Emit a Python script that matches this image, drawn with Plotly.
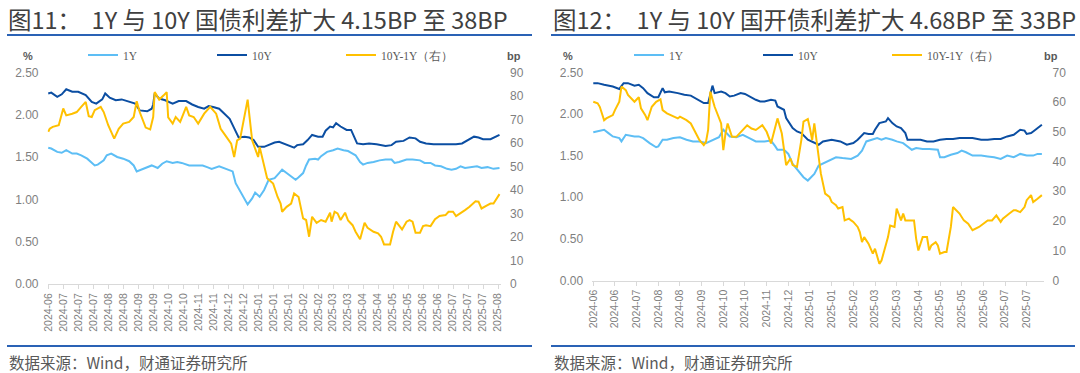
import plotly.graph_objects as go
from plotly.subplots import make_subplots

# ---------------- Left panel (国债) ----------------
L_TICKS = ["2024-06","2024-07","2024-07","2024-07","2024-08","2024-08","2024-09","2024-09",
           "2024-10","2024-10","2024-11","2024-11","2024-12","2024-12","2025-01","2025-01",
           "2025-01","2025-02","2025-02","2025-03","2025-03","2025-04","2025-04","2025-05",
           "2025-05","2025-06","2025-06","2025-07","2025-07","2025-07","2025-08"]

L_1Y_X = [0,2,6,9,12,16,19,22,26,29,31,33,37,39,42,46,50,54,57,59,62,66,69,73,76,79,83,86,89,94,
          98,103,106,109,114,117,121,123,125,128,133,136,138,141,144,147,151,154,156,159,162,165,
          167,170,172,174,178,180,182,184,186,190,193,197,200,203,205,208,210,213,217,221,225,229,
          231,234,239,243,248,251,255,258,262,266,269,272,275,278,282,286,289,293,297,301]
L_1Y = [1.61,1.60,1.56,1.55,1.58,1.54,1.54,1.52,1.48,1.43,1.40,1.41,1.46,1.52,1.54,1.50,1.48,1.45,
        1.40,1.33,1.35,1.38,1.40,1.37,1.42,1.45,1.43,1.44,1.43,1.40,1.40,1.40,1.38,1.36,1.39,1.37,
        1.35,1.33,1.19,1.09,0.94,1.01,1.08,1.03,1.11,1.23,1.25,1.31,1.35,1.31,1.27,1.23,1.26,1.31,
        1.40,1.47,1.48,1.47,1.51,1.54,1.56,1.58,1.60,1.58,1.57,1.54,1.52,1.44,1.41,1.43,1.44,1.46,
        1.47,1.47,1.43,1.44,1.47,1.47,1.46,1.43,1.43,1.40,1.39,1.36,1.35,1.36,1.39,1.37,1.38,1.39,
        1.37,1.38,1.36,1.37]

L_10Y_X = [0,2,6,9,12,16,20,25,29,32,36,38,41,45,49,54,58,61,66,69,70,71,74,78,83,87,92,96,100,
           104,107,110,114,117,121,124,127,131,134,137,140,144,147,151,154,157,161,164,166,170,
           173,176,180,183,185,188,190,192,195,199,202,204,206,210,214,219,222,225,229,232,237,
           241,245,248,252,257,262,268,272,276,279,284,287,290,295,298,301]
L_10Y = [2.25,2.26,2.21,2.24,2.30,2.27,2.27,2.23,2.15,2.13,2.18,2.25,2.20,2.17,2.18,2.15,2.13,2.05,
         2.04,2.07,2.12,2.25,2.19,2.17,2.13,2.16,2.16,2.12,2.09,2.07,2.10,2.09,2.07,2.02,1.95,1.84,
         1.73,1.74,1.73,1.70,1.62,1.62,1.64,1.67,1.68,1.66,1.63,1.61,1.64,1.65,1.70,1.76,1.74,1.74,
         1.81,1.86,1.85,1.90,1.86,1.82,1.82,1.73,1.66,1.65,1.66,1.65,1.64,1.63,1.64,1.68,1.69,1.73,
         1.72,1.68,1.66,1.65,1.65,1.65,1.65,1.66,1.69,1.74,1.73,1.71,1.71,1.74,1.76]

L_SP_X = [0,1,3,7,10,12,16,19,22,25,27,29,31,35,37,40,44,47,50,54,57,59,61,65,68,70,71,74,77,79,
          80,83,85,88,92,94,97,100,104,108,112,115,118,122,124,126,128,130,133,136,140,141,144,
          146,150,153,155,156,159,162,164,167,170,172,174,176,179,182,185,188,189,191,193,195,198,
          200,203,205,208,211,213,217,220,222,224,228,230,232,236,239,241,243,245,248,250,252,255,
          258,261,265,267,270,272,275,278,281,285,287,289,293,295,297,299,301]
L_SP = [64.7,66.0,66.8,67.5,74.6,71.7,72.4,73.1,75.3,77.4,71.3,71.0,73.9,75.3,73.1,67.5,61.8,66.0,
        68.2,68.9,71.0,77.7,73.1,66.5,65.7,71.0,81.6,78.4,80.2,81.6,70.8,68.2,71.0,68.9,75.3,71.7,
        71.0,68.2,72.4,75.3,72.4,66.0,63.3,59.7,54.0,61.1,61.8,68.9,78.4,61.1,54.0,58.3,49.8,45.0,
        42.7,37.0,34.2,30.7,32.8,34.2,38.5,37.0,27.9,27.2,20.1,28.6,26.0,27.2,26.5,30.3,26.5,30.7,
        30.0,27.2,30.3,27.0,25.0,22.2,19.0,26.0,23.9,22.2,21.5,20.1,16.8,16.8,22.2,26.5,23.2,26.5,
        27.2,26.5,21.8,21.8,24.6,25.0,24.6,27.5,28.9,29.3,30.7,30.7,28.9,30.0,31.4,32.8,35.2,35.0,
        32.1,33.5,34.2,34.2,36.4,38.2]

# ---------------- Right panel (国开债) ----------------
R_TICKS = ["2024-06","2024-06","2024-07","2024-08","2024-08","2024-09","2024-10","2024-10",
           "2024-11","2024-12","2025-01","2025-01","2025-02","2025-03","2025-03","2025-04",
           "2025-05","2025-05","2025-06","2025-07","2025-07"]

R_1Y_X = [0,2,5,7,9,12,13,15,19,21,23,26,29,30,32,34,37,40,43,46,49,52,55,58,60,62,63,66,69,72,
          75,79,82,84,85,88,90,92,95,97,99,102,104,107,110,112,115,119,122,124,126,129,131,133,135,
          138,140,143,145,147,149,152,155,159,160,162,165,168,170,172,175,179,182,185,188,191,194,
          197,200,203,205,207]
R_1Y = [1.78,1.79,1.81,1.77,1.73,1.71,1.67,1.75,1.73,1.73,1.71,1.65,1.60,1.61,1.69,1.69,1.71,1.72,
        1.69,1.67,1.67,1.65,1.69,1.72,1.81,1.75,1.73,1.72,1.75,1.71,1.67,1.67,1.68,1.61,1.57,1.57,
        1.52,1.40,1.30,1.24,1.20,1.28,1.38,1.42,1.46,1.48,1.47,1.46,1.50,1.56,1.67,1.69,1.71,1.69,
        1.71,1.69,1.67,1.65,1.61,1.57,1.59,1.58,1.58,1.57,1.48,1.48,1.51,1.53,1.56,1.54,1.50,1.50,
        1.49,1.48,1.46,1.50,1.48,1.52,1.50,1.50,1.52,1.52]

R_10Y_X = [0,2,5,7,9,12,14,16,19,21,23,25,28,30,32,33,35,39,42,45,48,51,53,54,55,56,59,61,63,65,
           68,70,72,75,77,79,82,84,85,88,89,92,94,96,99,102,104,106,110,114,117,120,122,125,127,
           129,130,132,135,136,138,140,142,144,145,148,151,154,157,160,163,166,169,172,175,179,182,
           185,188,191,194,197,199,200,202,203,205,207]
R_10Y = [2.37,2.37,2.35,2.34,2.33,2.30,2.37,2.37,2.34,2.35,2.31,2.25,2.20,2.20,2.31,2.26,2.27,2.25,
         2.23,2.22,2.17,2.13,2.13,2.25,2.34,2.25,2.27,2.25,2.21,2.22,2.25,2.24,2.21,2.17,2.15,2.15,
         2.17,2.16,2.09,2.05,1.95,1.83,1.79,1.77,1.69,1.65,1.63,1.67,1.69,1.67,1.63,1.65,1.69,1.77,
         1.76,1.76,1.81,1.89,1.91,1.95,1.89,1.85,1.83,1.77,1.69,1.69,1.69,1.67,1.67,1.69,1.70,1.70,
         1.71,1.71,1.71,1.69,1.69,1.70,1.70,1.73,1.75,1.81,1.80,1.76,1.77,1.79,1.83,1.87]

R_SP_X = [0,2,3,5,6,9,10,12,13,15,16,19,21,22,24,25,27,29,31,32,34,36,39,40,43,45,48,49,51,52,53,
          54,56,59,60,61,62,64,66,69,71,73,75,78,80,82,84,85,87,89,91,92,94,96,97,99,100,101,102,
          104,105,107,109,110,112,113,115,116,118,119,120,122,123,124,125,127,129,130,131,132,133,
          135,136,137,139,140,142,143,144,146,148,149,150,152,154,155,156,158,159,160,162,163,165,
          166,169,171,173,175,178,180,182,184,186,188,189,192,194,195,197,199,200,202,203,205,206,207]
R_SP = [60.1,59.6,58.4,53.9,54.5,55.6,57.3,60.1,65.2,64.0,62.4,60.1,61.6,57.9,55.6,53.9,58.4,60.1,
        60.9,57.3,56.2,55.6,54.5,55.1,53.9,52.8,48.3,47.2,45.5,46.6,50.6,63.5,58.4,52.8,43.8,49.4,
        52.8,48.3,48.3,50.6,52.2,51.1,50.6,52.2,50.0,46.1,51.5,54.5,49.4,38.8,41.0,38.8,38.2,47.2,
        53.4,54.3,51.1,47.2,52.8,41.6,36.0,29.2,28.1,26.4,25.3,24.2,24.7,20.2,20.8,20.2,19.7,18.0,
        16.3,12.9,14.6,12.4,9.0,10.7,8.4,5.6,6.7,12.4,14.6,18.5,18.0,24.2,20.2,22.5,20.2,20.2,20.2,
        14.0,10.1,14.6,14.6,10.1,11.8,12.9,11.8,9.0,9.6,9.6,18.0,24.7,22.5,20.2,19.1,16.9,18.0,19.1,
        20.2,20.2,21.9,19.7,20.8,22.5,23.6,23.6,23.0,24.7,27.0,28.7,26.4,27.5,28.1,28.7,30.3,30.9,32.8]

TITLE_L = "图11：  1Y 与 10Y 国债利差扩大 4.15BP 至 38BP"
TITLE_R = "图12：  1Y 与 10Y 国开债利差扩大 4.68BP 至 33BP"
SOURCE = "数据来源：Wind，财通证券研究所"
NAMES = ["1Y", "10Y", "10Y-1Y（右）"]

C_1Y = "#5DBEF5"
C_10Y = "#0B4EA2"
C_SP = "#FFC000"

W, H = 1080, 373
def px(x): return x / W
def py(y): return (H - y) / H

fig = make_subplots(rows=1, cols=2, specs=[[{"secondary_y": True}, {"secondary_y": True}]])

fig.add_trace(go.Scatter(x=L_1Y_X, y=L_1Y, name=NAMES[0], mode="lines",
                         line=dict(color=C_1Y, width=2), legend="legend"), row=1, col=1, secondary_y=False)
fig.add_trace(go.Scatter(x=L_10Y_X, y=L_10Y, name=NAMES[1], mode="lines",
                         line=dict(color=C_10Y, width=2), legend="legend"), row=1, col=1, secondary_y=False)
fig.add_trace(go.Scatter(x=L_SP_X, y=L_SP, name=NAMES[2], mode="lines",
                         line=dict(color=C_SP, width=2), legend="legend"), row=1, col=1, secondary_y=True)

fig.add_trace(go.Scatter(x=R_1Y_X, y=R_1Y, name=NAMES[0], mode="lines",
                         line=dict(color=C_1Y, width=2), legend="legend2"), row=1, col=2, secondary_y=False)
fig.add_trace(go.Scatter(x=R_10Y_X, y=R_10Y, name=NAMES[1], mode="lines",
                         line=dict(color=C_10Y, width=2), legend="legend2"), row=1, col=2, secondary_y=False)
fig.add_trace(go.Scatter(x=R_SP_X, y=R_SP, name=NAMES[2], mode="lines",
                         line=dict(color=C_SP, width=2), legend="legend2"), row=1, col=2, secondary_y=True)

tickfont = dict(family="Liberation Sans, Arial, sans-serif", size=12, color="#7F7F7F")
xtickfont = dict(family="Liberation Sans, Arial, sans-serif", size=10.5, color="#7F7F7F")

xcommon = dict(showgrid=False, zeroline=False, showline=True, linecolor="#D9D9D9", linewidth=1,
               ticks="outside", ticklen=4, tickcolor="#D9D9D9", tickangle=-90, tickfont=xtickfont,
               automargin=False)
ycommon = dict(showgrid=False, zeroline=False, showline=False, ticks="", tickfont=tickfont,
               ticklabelstandoff=8, automargin=False)

fig.update_layout(
    xaxis=dict(**xcommon, domain=[px(47.5), px(501)], range=[-0.5, 302],
               tickmode="array", tickvals=[10 * i for i in range(len(L_TICKS))], ticktext=L_TICKS),
    xaxis2=dict(**xcommon, domain=[px(592.2), px(1043.6)], range=[-0.5, 207.8],
                tickmode="array", tickvals=[10 * i for i in range(len(R_TICKS))], ticktext=R_TICKS),
    yaxis=dict(**ycommon, domain=[py(284), py(72.3)], range=[0, 2.5], dtick=0.5, tickformat=".2f"),
    yaxis2=dict(**ycommon, range=[0, 90], dtick=10),
    yaxis3=dict(**ycommon, domain=[py(280.5), py(72.3)], range=[0, 2.5], dtick=0.5, tickformat=".2f"),
    yaxis4=dict(**ycommon, range=[0, 70], dtick=10),
)

legfont = dict(family="Liberation Serif, Times New Roman, serif", size=11.5, color="#595959")
fig.update_layout(
    legend=dict(orientation="h", x=px(83), y=py(55), xanchor="left", yanchor="middle",
                font=legfont, entrywidth=84, entrywidthmode="pixels", bgcolor="rgba(0,0,0,0)",
                itemwidth=30, tracegroupgap=0),
    legend2=dict(orientation="h", x=px(629), y=py(55), xanchor="left", yanchor="middle",
                 font=legfont, entrywidth=84, entrywidthmode="pixels", bgcolor="rgba(0,0,0,0)",
                 itemwidth=30, tracegroupgap=0),
)

ann = []
titlefont = dict(family="Noto Sans CJK SC, sans-serif", size=23.5, color="#404040")
ann.append(dict(text=TITLE_L, x=px(6), y=py(19), xanchor="left", yanchor="middle", font=titlefont))
ann.append(dict(text=TITLE_R, x=px(551), y=py(19), xanchor="left", yanchor="middle", font=titlefont))
srcfont = dict(family="Noto Sans CJK SC, sans-serif", size=15.5, color="#595959")
ann.append(dict(text=SOURCE, x=px(7), y=py(362), xanchor="left", yanchor="middle", font=srcfont))
ann.append(dict(text=SOURCE, x=px(552), y=py(362), xanchor="left", yanchor="middle", font=srcfont))
unitfont = dict(family="Liberation Sans, Arial, sans-serif", size=11, color="#595959")
ann.append(dict(text="<b>%</b>", x=px(28), y=py(56), xanchor="center", yanchor="middle", font=unitfont))
ann.append(dict(text="<b>bp</b>", x=px(514), y=py(56), xanchor="center", yanchor="middle", font=unitfont))
ann.append(dict(text="<b>%</b>", x=px(568), y=py(56), xanchor="center", yanchor="middle", font=unitfont))
ann.append(dict(text="<b>bp</b>", x=px(1051), y=py(56), xanchor="center", yanchor="middle", font=unitfont))
for a in ann:
    a.update(xref="paper", yref="paper", showarrow=False)

rule = "#2A62B5"
shapes = [
    dict(type="line", xref="paper", yref="paper", x0=px(7), x1=px(532), y0=py(35), y1=py(35),
         line=dict(color=rule, width=2)),
    dict(type="line", xref="paper", yref="paper", x0=px(551), x1=px(1075), y0=py(35), y1=py(35),
         line=dict(color=rule, width=2)),
    dict(type="line", xref="paper", yref="paper", x0=px(7), x1=px(532), y0=py(346), y1=py(346),
         line=dict(color=rule, width=2)),
    dict(type="line", xref="paper", yref="paper", x0=px(551), x1=px(1075), y0=py(346), y1=py(346),
         line=dict(color=rule, width=2)),
]

fig.update_layout(width=W, height=H, margin=dict(l=0, r=0, t=0, b=0, autoexpand=False),
                  paper_bgcolor="white", plot_bgcolor="white",
                  annotations=ann, shapes=shapes, showlegend=True)

fig.write_html("out.html", config={"displayModeBar": False},
               post_script="document.body.style.margin='0';")
